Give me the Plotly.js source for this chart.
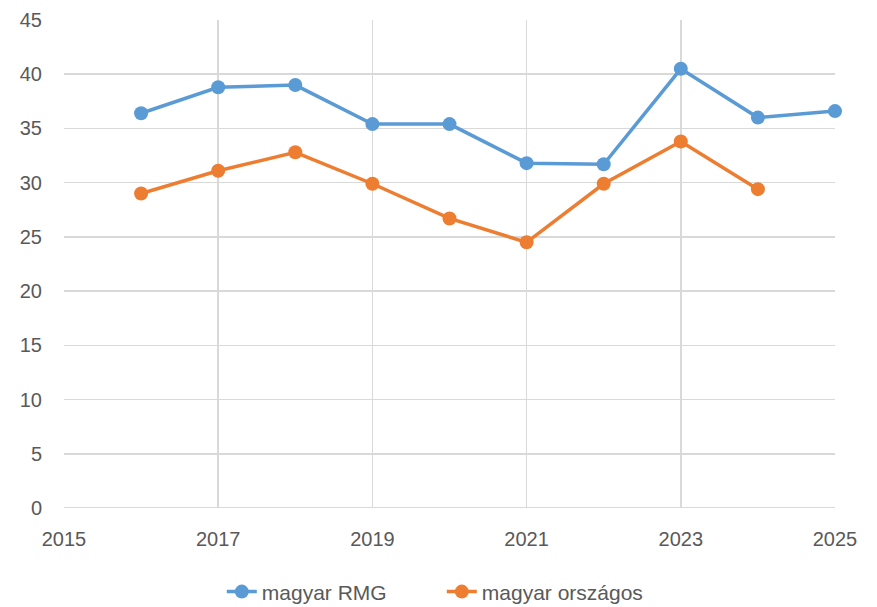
<!DOCTYPE html>
<html><head><meta charset="utf-8">
<script src="https://cdn.plot.ly/plotly-3.0.1.min.js"></script>
<style>html,body{margin:0;padding:0;background:#fff}#chart{width:877px;height:607px}</style>
</head><body><div id="chart"></div>
<script>
const yearsRMG = [2016, 2017, 2018, 2019, 2020, 2021, 2022, 2023, 2024, 2025];
const valuesRMG = [36.4, 38.8, 39.0, 35.4, 35.4, 31.8, 31.7, 40.5, 36.0, 36.6];
const yearsOrszagos = [2016, 2017, 2018, 2019, 2020, 2021, 2022, 2023, 2024];
const valuesOrszagos = [29.0, 31.1, 32.8, 29.9, 26.7, 24.5, 29.9, 33.8, 29.4];
const seriesNames = ["magyar RMG", "magyar országos"];

const traces = [
  {x: yearsRMG, y: valuesRMG, name: seriesNames[0], type: 'scatter', mode: 'lines+markers',
   line: {color: '#5b9bd5', width: 3.5}, marker: {color: '#5b9bd5', size: 14}, cliponaxis: false},
  {x: yearsOrszagos, y: valuesOrszagos, name: seriesNames[1], type: 'scatter', mode: 'lines+markers',
   line: {color: '#ed7d31', width: 3.5}, marker: {color: '#ed7d31', size: 14}, cliponaxis: false}
];
const fam = '"Liberation Sans", Arial, sans-serif';
const font = {family: fam, size: 20, color: '#595959'};
const layout = {
  width: 877, height: 607,
  margin: {l: 64, r: 42, t: 20, b: 99, autoexpand: false},
  paper_bgcolor: '#fff', plot_bgcolor: '#fff',
  font: font,
  showlegend: true,
  legend: {orientation: 'h', x: 0.49, xanchor: 'center', y: -0.172, yanchor: 'middle',
           entrywidth: 175, entrywidthmode: 'pixels', font: {size: 21, color: '#595959', family: fam}},
  xaxis: {range: [2015, 2025], dtick: 2, tick0: 2015, showgrid: true, gridcolor: '#d9d9d9', gridwidth: 1.5,
          zeroline: false, showline: false, ticks: '', tickfont: font, ticklabelstandoff: 17, fixedrange: true},
  yaxis: {range: [0, 45], dtick: 5, showgrid: true, gridcolor: '#d9d9d9', gridwidth: 1.5,
          zeroline: false, showline: false, ticks: '', tickfont: font, ticklabelstandoff: 21, fixedrange: true},
  shapes: [{type: 'line', xref: 'x', yref: 'y', x0: 2015, x1: 2025, y0: 0, y1: 0, layer: 'below',
            line: {color: '#d9d9d9', width: 2}}]
};
Plotly.newPlot('chart', traces, layout, {displayModeBar: false, staticPlot: true});
</script></body></html>
